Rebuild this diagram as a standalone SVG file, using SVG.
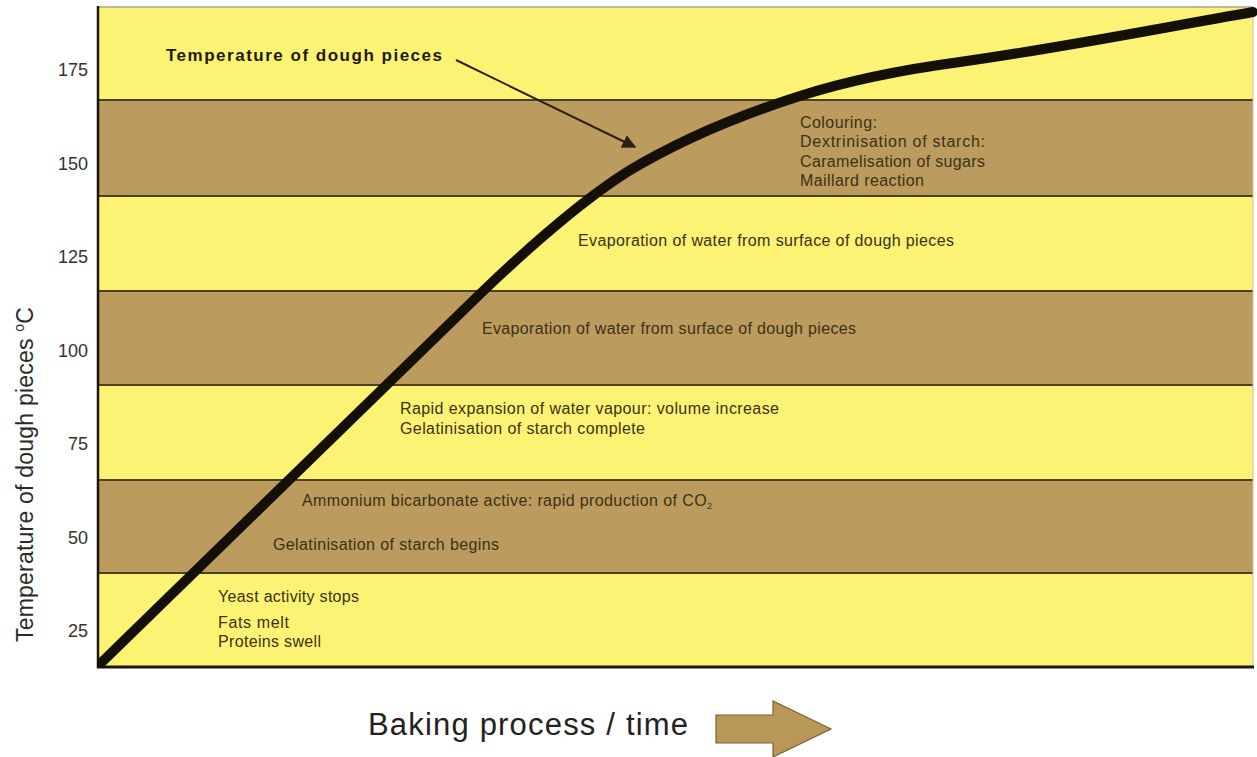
<svg xmlns="http://www.w3.org/2000/svg" width="1257" height="757" viewBox="0 0 1257 757">
  <defs>
    <style>
      .band-y { fill: #fcf374; }
      .band-b { fill: #bc9b5f; }
      .sep { stroke: #4d4220; stroke-width: 2; fill: none; }
      .lbl { font-family: "Liberation Sans", Arial, sans-serif; font-size: 16px; fill: #3a3212; }
      .tick { font-family: "Liberation Sans", Arial, sans-serif; font-size: 18px; fill: #333; text-anchor: end; }
      .axis-title { font-family: "Liberation Sans", Arial, sans-serif; fill: #2a2a2a; }
    </style>
    <marker id="head" viewBox="0 0 10 10" refX="9" refY="5" markerWidth="7" markerHeight="7" markerUnits="strokeWidth" orient="auto">
      <path d="M0,0 L10,5 L0,10 z" fill="#2a2210"/>
    </marker>
  </defs>

  <rect width="1257" height="757" fill="#ffffff"/>

  <!-- temperature bands, 25 degree steps -->
  <g id="bands">
    <rect class="band-y" x="98" y="7" width="1155" height="93"/>
    <rect class="band-b" x="98" y="100" width="1155" height="96"/>
    <rect class="band-y" x="98" y="196" width="1155" height="95"/>
    <rect class="band-b" x="98" y="291" width="1155" height="94"/>
    <rect class="band-y" x="98" y="385" width="1155" height="95"/>
    <rect class="band-b" x="98" y="480" width="1155" height="93"/>
    <rect class="band-y" x="98" y="573" width="1155" height="94"/>
    <path class="sep" d="M98,100 H1253 M98,196 H1253 M98,291 H1253 M98,385 H1253 M98,480 H1253 M98,573 H1253"/>
    <path d="M98,7 H1253" stroke="#a8a290" stroke-width="1.5"/>
    <path d="M1253,7 V667" stroke="#c8c2a8" stroke-width="1"/>
    <path d="M98,6 V668" stroke="#1c160a" stroke-width="2.5"/>
    <path d="M97,667 H1254" stroke="#1c160a" stroke-width="3"/>
  </g>

  <!-- y axis ticks -->
  <g id="y-axis">
    <text class="tick" x="88" y="76">175</text>
    <text class="tick" x="88" y="169.5">150</text>
    <text class="tick" x="88" y="263">125</text>
    <text class="tick" x="88" y="356.5">100</text>
    <text class="tick" x="88" y="450">75</text>
    <text class="tick" x="88" y="543.5">50</text>
    <text class="tick" x="88" y="637">25</text>
    <text class="axis-title" font-size="23" transform="translate(33,642) rotate(-90)" textLength="335">Temperature of dough pieces <tspan font-size="14" dy="-9">o</tspan><tspan dy="9">C</tspan></text>
  </g>

  <!-- dough temperature curve -->
  <g id="curve">
    <path d="M102,662 L480,294 C530,246 580,202 627,172 C680,140 740,115 800,96 C850,80 900,70 960,62 C1060,48 1150,30 1253,12" fill="none" stroke="#141008" stroke-width="10" stroke-linecap="round" stroke-linejoin="round"/>
  </g>

  <!-- pointer from the curve title -->
  <g id="connectors">
    <line x1="456" y1="60" x2="635" y2="147" stroke="#2a2210" stroke-width="2" marker-end="url(#head)"/>
  </g>

  <g id="title-curve">
    <text x="166" y="61" font-family="Liberation Sans, Arial, sans-serif" font-size="17" font-weight="bold" fill="#1e1a0c" textLength="276">Temperature of dough pieces</text>
  </g>

  <g id="label-colouring">
    <text class="lbl" x="800" y="128" textLength="77">Colouring:</text>
    <text class="lbl" x="800" y="147" textLength="185">Dextrinisation of starch:</text>
    <text class="lbl" x="800" y="167" textLength="185">Caramelisation of sugars</text>
    <text class="lbl" x="800" y="186" textLength="124">Maillard reaction</text>
  </g>

  <g id="label-evaporation-1">
    <text class="lbl" x="578" y="246" textLength="376">Evaporation of water from surface of dough pieces</text>
  </g>

  <g id="label-evaporation-2">
    <text class="lbl" x="482" y="334" textLength="374">Evaporation of water from surface of dough pieces</text>
  </g>

  <g id="label-expansion">
    <text class="lbl" x="400" y="414" textLength="379">Rapid expansion of water vapour: volume increase</text>
    <text class="lbl" x="400" y="434" textLength="245">Gelatinisation of starch complete</text>
  </g>

  <g id="label-ammonium">
    <text class="lbl" x="302" y="506" textLength="410">Ammonium bicarbonate active: rapid production of CO<tspan font-size="9" dy="3">2</tspan></text>
    <text class="lbl" x="273" y="550" textLength="226">Gelatinisation of starch begins</text>
  </g>

  <g id="label-yeast">
    <text class="lbl" x="218" y="602" textLength="141">Yeast activity stops</text>
    <text class="lbl" x="218" y="628" textLength="71">Fats melt</text>
    <text class="lbl" x="218" y="647" textLength="103">Proteins swell</text>
  </g>

  <!-- x axis caption -->
  <g id="x-axis">
    <text x="368" y="735" font-family="Liberation Sans, Arial, sans-serif" font-size="31" fill="#222" textLength="320">Baking process / time</text>
    <path d="M716,715 H773 V701 L831,729 L773,757 V743 H716 Z" fill="#b99757" stroke="#7a6232" stroke-width="1.2"/>
  </g>
</svg>
